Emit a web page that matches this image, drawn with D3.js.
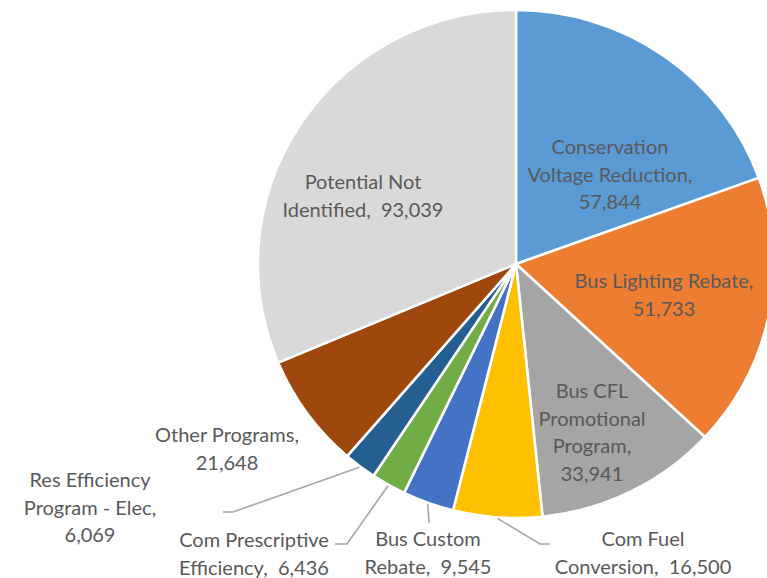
<!DOCTYPE html>
<html>
<head>
<meta charset="utf-8">
<script src="https://cdn.jsdelivr.net/npm/d3@7"></script>
<style>
  html, body { margin: 0; padding: 0; background: #fff; }
  svg { display: block; }
  text.lbl { white-space: pre; }
</style>
</head>
<body>
<div id="chart"></div>
<script>
'use strict';
// data
var programs = ["Conservation Voltage Reduction", "Bus Lighting Rebate", "Bus CFL Promotional Program",
                "Com Fuel Conversion", "Bus Custom Rebate", "Com Prescriptive Efficiency",
                "Res Efficiency Program - Elec", "Other Programs", "Potential Not Identified"];
var savings = [57844, 51733, 33941, 16500, 9545, 6436, 6069, 21648, 93039];
// label text lines (as Excel wrapped them)
var labelLines = [
  ["Conservation", "Voltage Reduction,", "57,844"],
  ["Bus Lighting Rebate,", "51,733"],
  ["Bus CFL", "Promotional", "Program,", "33,941"],
  ["Com Fuel", "Conversion,  16,500"],
  ["Bus Custom", "Rebate,  9,545"],
  ["Com Prescriptive", "Efficiency,  6,436"],
  ["Res Efficiency", "Program - Elec,", "6,069"],
  ["Other Programs,", "21,648"],
  ["Potential Not", "Identified,  93,039"]
];
var colors = ["#5B9BD5", "#ED7D31", "#A5A5A5", "#FFC000", "#4472C4", "#70AD47", "#255E91", "#9E480E", "#D9D9D9"];

// layout (relative to pie centre): label centre of first line, leader elbow + end
var width = 767, height = 578;
var cx = 516, cy = 264, radius = 254, stretchX = 1.016;
var lineH = 27.5;
var labelAt = [[94, -117], [148, 17], [76, 127], [127, 275], [-88, 275], [-262, 276], [-426, 216], [-289, 171], [-153, -82]];
var leaders = [null, null, null, [[24, 280], [34, 280]], [[-87, 259]], [[-169, 280], [-181, 280]], [[-283, 248], [-293, 248]], null, null];

var svg = d3.select("#chart").append("svg")
    .attr("width", width)
    .attr("height", height);

var g = svg.append("g").attr("transform", "translate(" + cx + "," + cy + ")");

var pie = d3.pie().sort(null).value(function(d) { return d; });
var arc = d3.arc().innerRadius(0).outerRadius(radius);
var arcs = pie(savings);

g.append("g")
    .attr("transform", "scale(" + stretchX + ",1)")
  .selectAll("path.slice")
    .data(arcs)
    .enter().append("path")
    .attr("class", "slice")
    .attr("d", arc)
    .attr("fill", function(d, i) { return colors[i]; })
    .attr("stroke", "#fff")
    .attr("stroke-width", 2.5)
    .attr("stroke-linejoin", "round");

// leader lines
g.selectAll("path.leader")
    .data(arcs.filter(function(d, i) { return leaders[i]; }))
    .enter().append("path")
    .attr("class", "leader")
    .attr("d", function(d) {
        var a = (d.startAngle + d.endAngle) / 2;
        var pts = [[Math.sin(a) * (radius + 1) * stretchX, -Math.cos(a) * (radius + 1)]].concat(leaders[d.index]);
        return d3.line()(pts);
    })
    .attr("fill", "none")
    .attr("stroke", "#A6A6A6")
    .attr("stroke-width", 1.6);

// labels
var labels = g.selectAll("text.lbl")
    .data(arcs)
    .enter().append("text")
    .attr("class", "lbl")
    .attr("text-anchor", "middle")
    .attr("font-family", "Lato, 'Open Sans', sans-serif")
    .attr("font-size", "20px")
    .attr("fill", "#595959");

labels.selectAll("tspan")
    .data(function(d) { return labelLines[d.index].map(function(t, j) { return { t: t, j: j, i: d.index }; }); })
    .enter().append("tspan")
    .attr("x", function(d) { return labelAt[d.i][0]; })
    .attr("y", function(d) { return labelAt[d.i][1] + d.j * lineH; })
    .attr("dy", "0.35em")
    .text(function(d) { return d.t; });
</script>
</body>
</html>
